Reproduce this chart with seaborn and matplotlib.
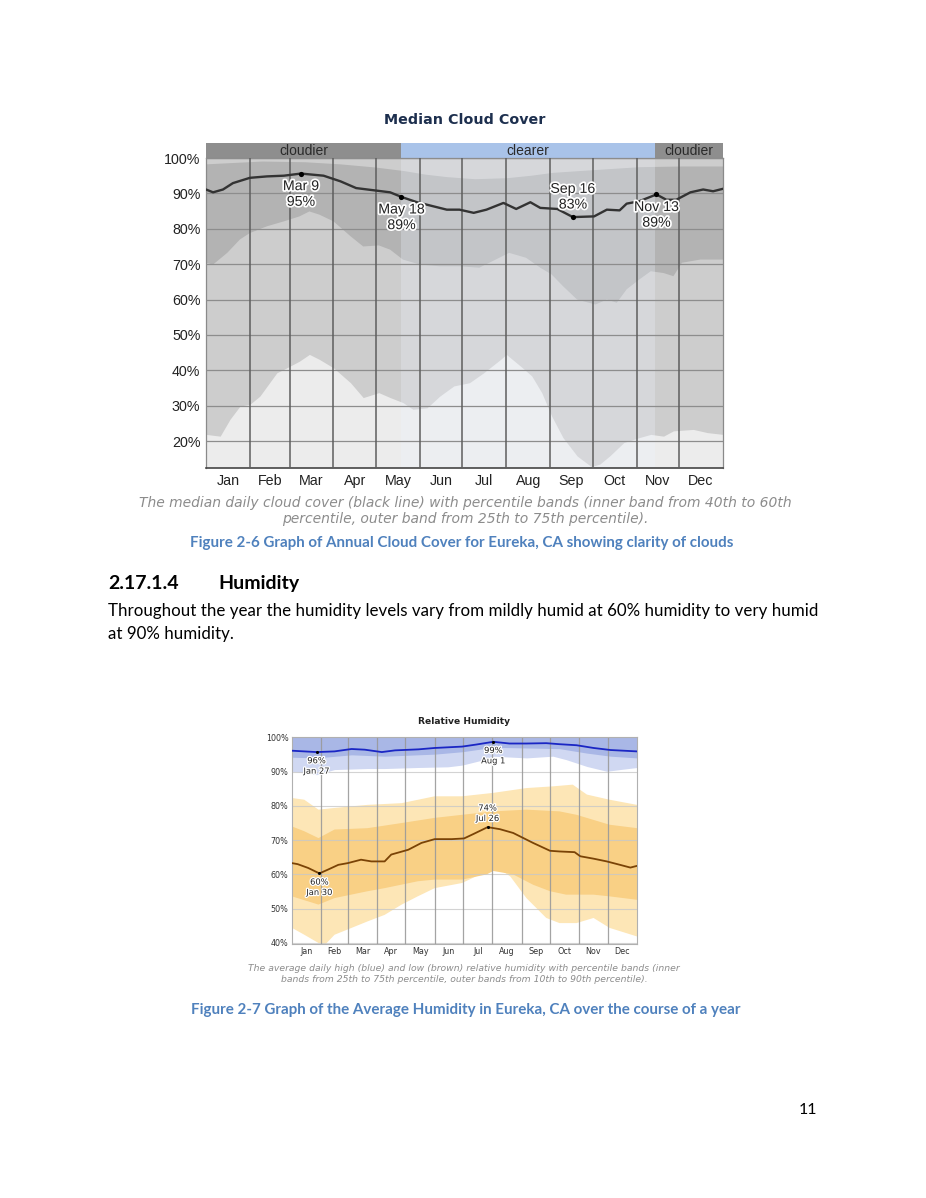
import matplotlib
matplotlib.use("Agg")
import matplotlib.pyplot as plt
import matplotlib.patheffects as pe
import seaborn as sns
import numpy as np

# ---- month axis ----
months = ["Jan", "Feb", "Mar", "Apr", "May", "Jun", "Jul", "Aug", "Sep", "Oct", "Nov", "Dec"]
month_starts = [0, 31, 59, 90, 120, 151, 181, 212, 243, 273, 304, 334, 365]
month_mids = [15.5, 45, 74.5, 105, 135.5, 166, 196.5, 227.5, 258, 288.5, 319, 349.5]

# ---- median cloud cover (%) ----
cloud_med_days = [0, 5, 12, 19, 31, 43, 55, 67, 83, 95, 106, 118, 130, 138, 149, 160, 170, 179, 189, 198,
                  210, 219, 229, 236, 248, 259, 274, 283, 292, 297, 306, 318, 325, 332, 342, 351, 358, 365]
cloud_med = [91.1, 90.3, 91.1, 92.9, 94.4, 94.8, 95.0, 95.6, 95.0, 93.4, 91.5, 90.9, 90.3, 89.0, 87.5, 86.4, 85.4, 85.4, 84.5, 85.4,
             87.3, 85.6, 87.5, 85.9, 85.6, 83.3, 83.5, 85.4, 85.2, 87.1, 87.8, 89.7, 88.2, 88.2, 90.3, 91.1, 90.6, 91.3]

cloud_p60_days = [0, 20, 40, 70, 95, 120, 140, 155, 170, 190, 213, 230, 245, 275, 306, 336, 365]
cloud_p60 = [98.2, 98.6, 99.0, 98.8, 98.2, 97.3, 96.3, 95.3, 94.6, 94.0, 94.3, 95.0, 95.8, 96.6, 97.4, 97.6, 97.6]

cloud_p40_days = [0, 5, 15, 24, 31, 43, 55, 66, 73, 80, 90, 102, 111, 122, 130, 139, 151, 165, 179, 193,
                  214, 226, 236, 244, 252, 262, 275, 283, 290, 297, 306, 314, 323, 330, 336, 349, 365]
cloud_p40 = [70.4, 69.9, 73.2, 77.0, 78.8, 80.7, 82.1, 83.5, 84.9, 84.0, 82.1, 77.9, 75.0, 75.3, 74.1, 71.3, 69.9, 69.4, 69.4, 69.0,
             73.2, 71.8, 69.0, 67.1, 63.8, 60.0, 58.6, 60.0, 59.1, 62.9, 65.7, 68.0, 67.5, 66.6, 70.4, 71.3, 71.3]

cloud_p25_days = [0, 10, 17, 24, 31, 38, 50, 57, 66, 73, 80, 90, 102, 111, 122, 130, 139, 146, 156, 165,
                  175, 186, 196, 208, 212, 222, 230, 237, 244, 252, 262, 272, 278, 285, 295, 306, 314, 323, 330, 344, 354, 365]
cloud_p25 = [21.9, 21.4, 26.2, 29.9, 30.4, 32.7, 39.3, 40.7, 42.6, 44.5, 43.1, 40.7, 36.5, 32.3, 33.7, 32.3, 30.9, 29.0, 29.4, 32.7,
             35.6, 36.5, 39.3, 43.1, 44.5, 41.2, 38.4, 33.7, 27.1, 21.0, 15.8, 12.8, 13.5, 15.8, 19.6, 21.0, 21.9, 21.4, 22.9, 23.3, 22.4, 21.9]

cloud_mark_days = [67, 138, 259, 318]
cloud_mark_vals = [95.6, 89.0, 83.3, 89.7]
cloud_mark_text = ["Mar 9\n95%", "May 18\n89%", "Sep 16\n83%", "Nov 13\n89%"]

season_edges = [0, 138, 317, 365]
season_names = ["cloudier", "clearer", "cloudier"]

# ---- relative humidity (%) ----
high_days = [0, 26, 45, 63, 77, 95, 109, 134, 151, 180, 195, 213, 230, 248, 269, 283, 301, 319, 337, 365]
high = [96.1, 95.7, 95.9, 96.6, 96.4, 95.7, 96.2, 96.5, 96.9, 97.3, 97.9, 98.7, 98.2, 98.2, 98.3, 98.0, 97.7, 96.9, 96.3, 95.9]
high25_days = [0, 26, 63, 98, 151, 180, 213, 248, 283, 312, 337, 365]
high25 = [94.2, 94.0, 94.9, 94.5, 95.1, 95.8, 97.1, 96.9, 96.7, 95.4, 94.5, 94.0]
high10_days = [0, 26, 45, 80, 98, 133, 165, 180, 199, 213, 248, 276, 290, 312, 333, 347, 365]
high10 = [90.1, 89.1, 90.6, 90.9, 90.9, 91.2, 91.4, 91.9, 93.2, 94.5, 94.0, 94.5, 93.5, 91.5, 90.1, 90.6, 91.2]

low_days = [0, 6, 17, 29, 38, 49, 59, 73, 84, 98, 105, 123, 137, 151, 169, 182, 192, 207, 220, 234,
            255, 273, 283, 299, 305, 319, 333, 347, 358, 365]
low = [63.3, 63.0, 61.9, 60.3, 61.4, 62.8, 63.3, 64.3, 63.8, 63.8, 65.8, 67.2, 69.2, 70.3, 70.3, 70.5, 71.8, 73.8, 73.2, 72.1,
       69.2, 66.9, 66.7, 66.5, 65.3, 64.6, 63.8, 62.8, 62.0, 62.5]
low75_days = [0, 13, 28, 45, 80, 116, 151, 180, 213, 248, 283, 301, 336, 365]
low75 = [74.0, 72.6, 70.6, 73.1, 73.5, 75.0, 76.5, 77.4, 78.4, 78.9, 78.4, 77.4, 74.5, 73.5]
low25_days = [0, 28, 45, 80, 98, 133, 151, 180, 206, 213, 234, 255, 273, 290, 319, 336, 365]
low25 = [53.6, 51.2, 53.1, 55.1, 56.0, 58.0, 58.5, 58.5, 60.0, 61.0, 60.0, 57.0, 55.1, 54.1, 54.1, 53.6, 52.6]
low90_days = [0, 13, 28, 45, 80, 116, 151, 180, 213, 248, 276, 297, 312, 336, 365]
low90 = [82.3, 81.8, 78.9, 79.4, 80.3, 80.8, 82.8, 82.8, 83.8, 85.2, 85.7, 86.2, 83.3, 81.8, 80.3]
low10_days = [0, 13, 28, 35, 45, 63, 80, 98, 116, 133, 151, 180, 199, 213, 231, 248, 269, 283, 301, 319, 336, 365]
low10 = [44.4, 42.4, 40.0, 39.5, 42.4, 44.4, 46.3, 48.2, 51.2, 53.6, 56.0, 57.5, 60.0, 62.8, 59.4, 53.1, 47.3, 45.8, 45.8, 47.3, 44.4, 41.9]

rh_mark_days = [26, 213, 207, 29]
rh_mark_vals = [95.7, 98.7, 73.8, 60.3]
rh_mark_text = ["96%\nJan 27", "99%\nAug 1", "74%\nJul 26", "60%\nJan 30"]
rh_mark_above = [False, False, True, False]

# ---- page text ----
cloud_note = ("The median daily cloud cover (black line) with percentile bands (inner band from 40th to 60th\n"
              "percentile, outer band from 25th to 75th percentile).")
cloud_caption = "Figure 2-6 Graph of Annual Cloud Cover for Eureka, CA showing clarity of clouds"
body_lines = ["Throughout the year the humidity levels vary from mildly humid at 60% humidity to very humid",
              "at 90% humidity."]
rh_note = ("The average daily high (blue) and low (brown) relative humidity with percentile bands (inner\n"
           "bands from 25th to 75th percentile, outer bands from 10th to 90th percentile).")
rh_caption = "Figure 2-7 Graph of the Average Humidity in Eureka, CA over the course of a year"

sns.set_style("white")
plt.rcParams['font.family'] = ['DejaVu Sans']

W, H = 926, 1198
fig = plt.figure(figsize=(W / 100, H / 100), dpi=100)
fig.patch.set_facecolor("white")


def box(l, t, r, b):
    return [l / W, 1 - b / H, (r - l) / W, (b - t) / H]


def put(x, y, s, **kw):
    fig.text(x / W, 1 - y / H, s, **kw)


def band(ax, xa, ya, xb, yb, color):
    # polygon between two curves that were read on different day grids
    xs = np.concatenate([xa, xb[::-1]])
    ys = np.concatenate([ya, yb[::-1]])
    ax.fill(xs, ys, color=color, lw=0, zorder=1)


narrow = ['Liberation Sans', 'DejaVu Sans']
halo = [pe.withStroke(linewidth=2.5, foreground="white")]

# ================= cloud cover =================
put(465, 120, "Median Cloud Cover", ha="center", va="center", fontsize=10.3,
    fontweight="bold", color="#1d2f4e")

strip = fig.add_axes(box(206, 143, 723, 158))
strip.set_xlim(0, 365)
strip.set_ylim(0, 1)
for i, name in enumerate(season_names):
    c = "#a9c3e9" if name == "clearer" else "#8e8e8e"
    strip.axvspan(season_edges[i], season_edges[i + 1], color=c, lw=0)
    strip.text((season_edges[i] + season_edges[i + 1]) / 2, 0.45, name, ha="center", va="center",
               fontsize=10, color="#2a2a2a", family=narrow)
strip.axis("off")

ax1 = fig.add_axes(box(206, 158, 723, 468))
ax1.set_facecolor("#ececec")
ax1.fill_between(cloud_p25_days, cloud_p25, 100, color="#cdcdcd", lw=0, zorder=1)
band(ax1, np.array(cloud_p60_days), np.array(cloud_p60),
     np.array(cloud_p40_days), np.array(cloud_p40), "#b3b3b3")
ax1.axvspan(season_edges[1], season_edges[2], color="#eef4ff", alpha=0.28, lw=0, zorder=2)
for v in range(20, 101, 10):
    ax1.axhline(v, color="#8d8d8d", lw=0.9, zorder=3)
for d in month_starts[1:-1]:
    ax1.axvline(d, color="#5e5e5e", lw=1.1, zorder=3)

sns.lineplot(x=cloud_med_days, y=cloud_med, ax=ax1, color="#333333", lw=1.7, zorder=4)
sns.scatterplot(x=cloud_mark_days, y=cloud_mark_vals, ax=ax1, color="black", s=14, zorder=5, linewidth=0)
for d, v, t in zip(cloud_mark_days, cloud_mark_vals, cloud_mark_text):
    above = t.startswith("Sep")
    ax1.annotate(t, (d, v), xytext=(0, 4 if above else -4), textcoords="offset points",
                 ha="center", va="bottom" if above else "top", fontsize=10.2, color="#222222",
                 family=narrow, linespacing=1.15, path_effects=halo, zorder=6)

ax1.set_xlim(0, 365)
ax1.set_ylim(12.4, 100)
ax1.set_yticks(range(20, 101, 10))
ax1.set_yticklabels([f"{v}%" for v in range(20, 101, 10)], family=narrow, fontsize=10.3, color="#222222")
ax1.set_xticks(month_mids)
ax1.set_xticklabels(months, family=narrow, fontsize=10.3, color="#222222")
ax1.tick_params(length=0, pad=4)
ax1.set_xlabel("")
ax1.set_ylabel("")
for s in ax1.spines.values():
    s.set_color("#8a8a8a")
    s.set_linewidth(0.9)
ax1.spines["bottom"].set_color("#444444")
ax1.spines["bottom"].set_linewidth(1.2)

put(465, 511, cloud_note, ha="center", va="center", fontsize=10.0, style="italic",
    color="#8c8c8c", linespacing=1.15)
put(462, 543, cloud_caption, ha="center", va="center", fontsize=10.9, fontweight="bold",
    color="#4f81bd", family="Lato")

# ================= text block =================
put(108, 583, "2.17.1.4", ha="left", va="center", fontsize=14, fontweight="bold", family="Lato", color="black")
put(218, 583, "Humidity", ha="left", va="center", fontsize=14, fontweight="bold", family="Lato", color="black")
put(108, 611, body_lines[0], ha="left", va="center", fontsize=12.2, family="Lato", color="black")
put(108, 634, body_lines[1], ha="left", va="center", fontsize=12.2, family="Lato", color="black")

# ================= relative humidity =================
put(464, 722, "Relative Humidity", ha="center", va="center", fontsize=6.6,
    fontweight="bold", color="#222222")

ax2 = fig.add_axes(box(292, 737, 637, 944))
ax2.set_facecolor("white")
band(ax2, np.array(low90_days), np.array(low90), np.array(low10_days), np.array(low10), "#fde6b6")
band(ax2, np.array(low75_days), np.array(low75), np.array(low25_days), np.array(low25), "#f9d085")
ax2.fill_between(high10_days, high10, 100, color="#d0d8f2", lw=0, zorder=1)
ax2.fill_between(high25_days, high25, 100, color="#a9b7e6", lw=0, zorder=1)
for v in range(40, 101, 10):
    ax2.axhline(v, color="#c8c8c8", lw=0.8, alpha=0.8, zorder=2)
for d in month_starts[1:-1]:
    ax2.axvline(d, color="#9a9a9a", lw=0.9, alpha=0.9, zorder=2)

sns.lineplot(x=high_days, y=high, ax=ax2, color="#1a26c4", lw=1.3, zorder=4)
sns.lineplot(x=low_days, y=low, ax=ax2, color="#7a4306", lw=1.3, zorder=4)
sns.scatterplot(x=rh_mark_days, y=rh_mark_vals, ax=ax2, color="black", s=5, zorder=5, linewidth=0)
for d, v, t, up in zip(rh_mark_days, rh_mark_vals, rh_mark_text, rh_mark_above):
    ax2.annotate(t, (d, v), xytext=(0, 3 if up else -3), textcoords="offset points",
                 ha="center", va="bottom" if up else "top", fontsize=6, color="#222222",
                 linespacing=1.2, path_effects=[pe.withStroke(linewidth=1.8, foreground="white")], zorder=6)

ax2.set_xlim(0, 365)
ax2.set_ylim(39.7, 100.1)
ax2.set_yticks(range(40, 101, 10))
ax2.set_yticklabels([f"{v}%" for v in range(40, 101, 10)], fontsize=5.8, color="#333333")
ax2.set_xticks(month_mids)
ax2.set_xticklabels(months, fontsize=5.8, color="#333333")
ax2.tick_params(length=0, pad=2.5)
ax2.set_xlabel("")
ax2.set_ylabel("")
for s in ax2.spines.values():
    s.set_color("#b0b0b0")
    s.set_linewidth(0.8)

put(464, 974, rh_note, ha="center", va="center", fontsize=6.7, style="italic",
    color="#8c8c8c", linespacing=1.3)
put(466, 1010, rh_caption, ha="center", va="center", fontsize=10.9, fontweight="bold",
    color="#4f81bd", family="Lato")

put(808, 1110, "11", ha="center", va="center", fontsize=11.5, family="Lato", color="black")

fig.savefig("out.png", dpi=100, facecolor="white")
